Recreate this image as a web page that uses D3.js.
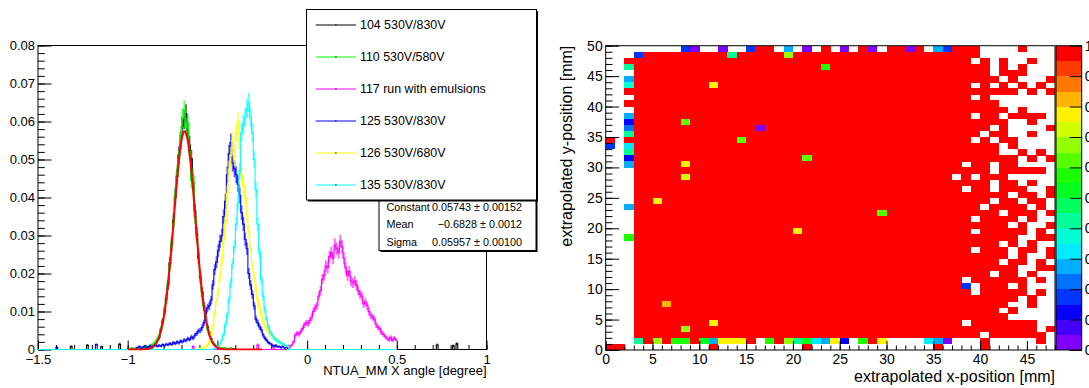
<!DOCTYPE html>
<html>
<head>
<meta charset="utf-8">
<script src="https://cdn.jsdelivr.net/npm/d3@7"></script>
<style>
  body { margin: 0; background: #fff; }
  svg { display: block; font-family: "Liberation Sans", Arial, Helvetica, sans-serif; }
</style>
</head>
<body>
<svg id="chart" width="1089" height="388"></svg>
<script>
// ---------- left pad: NTUA_MM X angle, normalised histograms ----------
// bin contents in units of 1e-3, bins of 0.01 degree starting at hXXXStart
const binWidth = 0.01;
const xMin = -1.5;

const runLabels = ['104 530V/830V', '110 530V/580V', '117 run with emulsions',
                   '125 530V/830V', '126 530V/680V', '135 530V/830V'];
const runColors = ['#000000', '#00ff00', '#ff00ff', '#0000ff', '#ffff00', '#00ffff'];

const h104Start = -1.0;
const h104 = [0.2,0,0.3,0,0.2,0.4,0,0.3,0.5,0.2,0.6,0.4,
  0.8,0.5,1.1,1.6,2.4,3.1,5.2,7.4,9.9,
  13.5,17.0,22.8,27.5,34.0,40.1,45.5,51.2,55.0,58.8,
  60.5,62.0,57.5,53.8,50.2,44.0,36.5,30.5,24.0,18.8,
  15.2,11.5,8.4,6.0,4.1,2.9,1.8,1.2,0.8,0.5,
  0.4,0.2,0.3,0.1,0.2,0,0.3,0.1,0.2];
const h104Spikes = [[-1.315,0.8],[-1.225,1.1],[-1.145,0.7],[-1.045,1.4],[0.725,1.2],[0.815,1.0],[0.835,1.5]];

const h110Start = -1.0;
const h110 = [0.1,0.3,0,0.2,0.5,0.2,0.4,0.6,0.3,0.5,0.8,0.6,
  1.0,1.3,1.5,2.0,2.8,3.6,5.6,7.0,10.5,
  13.0,18.0,22.0,28.5,33.0,41.0,46.5,50.0,56.5,61.0,
  63.0,58.5,59.5,52.0,44.5,45.5,35.0,29.5,25.0,19.5,
  14.0,11.0,8.8,5.5,4.5,2.6,2.0,1.1,0.9,0.6,
  0.3,0.5,0.2,0.4,0.1,0.3,0.2,0.1,0];

const h117Start = -0.12;
const h117 = [0.8,1.0,0.7,1.2,2.0,3.8,4.3,4.0,4.8,5.5,
  6.5,7.0,6.8,7.6,8.5,10.0,11.0,11.5,14.0,15.5,
  18.5,19.5,22.0,21.5,24.5,25.5,24.0,27.5,26.5,25.5,
  28.5,27.0,24.0,21.5,19.5,20.5,18.0,17.5,18.0,17.0,
  15.5,14.5,14.0,12.0,12.5,11.5,10.0,9.0,8.5,8.0,
  6.5,5.8,5.5,4.5,4.0,3.5,3.0,2.5,3.2,2.4,
  3.0,2.6];
const h117Spikes = [[-0.635,0.8],[-0.275,1.2],[-0.185,0.9]];

const h125Start = -0.95;
const h125 = [0.5,0.8,0.3,0.6,0.9,0.5,0.7,1.0,0.6,0.9,1.2,0.8,1.1,0.9,1.3,
  1.0,1.4,1.2,1.6,1.3,1.8,1.5,2.0,1.7,2.2,
  2.0,2.5,2.3,2.9,2.6,3.3,3.0,3.8,4.2,4.9,
  5.0,5.8,7.0,9.5,11.0,11.5,13.0,17.0,21.0,23.0,
  26.0,28.5,30.0,35.0,39.0,46.0,51.5,54.5,49.0,47.5,
  46.0,43.5,40.5,36.0,33.0,29.0,26.5,20.0,17.0,14.5,
  11.5,8.0,7.0,6.0,5.2,3.8,3.0,2.4,1.8,1.5,
  1.2,0.9,1.1,0.7,0.8,0.5,0.9,0.4,0.6,0.3];
const h125Spikes = [[-1.395,0.6],[-1.175,1.3]];

const h126Start = -0.60;
const h126 = [0.3,0.2,0.5,0.8,1.2,2.0,3.8,6.0,9.5,12.5,
  15.0,19.0,23.5,29.0,33.5,41.0,47.5,51.0,55.0,50.5,
  57.0,60.0,53.0,46.0,43.0,40.0,35.5,31.0,26.5,22.0,
  19.0,16.0,13.0,11.0,9.0,7.5,6.2,5.5,4.8,4.0,
  3.6,3.0,2.8,2.3,2.0,1.8,1.4,1.2,0.9,0.8];

const h135Start = -0.52;
const h135 = [0.2,0.4,0.8,1.5,2.5,4.0,6.5,9.0,13.0,17.5,
  22.5,27.0,33.0,38.5,47.0,57.0,59.5,61.0,63.5,65.0,
  61.0,57.0,50.0,42.0,33.0,25.5,18.5,14.0,10.5,8.0,
  6.0,4.5,3.8,3.0,2.6,2.2,1.9,1.7,1.5,1.2,
  1.0,0.8];

// gaussian fit shown in the stats box
const fitConstant = 0.05743, fitMean = -0.6828, fitSigma = 0.05957;
const fitRange = [-1.0, -0.25];
const statNames = ['Constant', 'Mean', 'Sigma'];
const statValues = ['0.05743 \u00b1 0.00152', '\u22120.6828 \u00b1 0.0012', '0.05957 \u00b1 0.00100'];

const yTicksL = [0, 0.01, 0.02, 0.03, 0.04, 0.05, 0.06, 0.07, 0.08];
const xTicksL = [-1.5, -1, -0.5, 0, 0.5, 1];

// ---------- right pad: efficiency map, 1 mm bins, 48 x 50 ----------
// '#' = filled bin (efficiency ~1 unless listed in lowCells), '.' = empty; first string is y bin 49
const solid = "##################################";
const effGrid = [
  "........##..#..###.#.#.#.#.##.####.#####....#...",
  "..." + solid + "###........",
  "..#" + solid + "##.#.#..#..",
  "..#" + solid + "####.#.#...",
  "..." + solid + "####.###...",
  "..#" + solid + "#####.#...#",
  "..#" + solid + "##.#.#.#.#.",
  "..#" + solid + "#######.#.#",
  "..." + solid + "##.#.......",
  "..#" + solid + "#####......",
  "..." + solid + "######.#...",
  "..#" + solid + "##.##.####.",
  "..#" + solid + "######..#..",
  "..#" + solid + "####.#....#",
  "..#" + solid + "###.##..#..",
  "#.#" + solid + "##.#.##....",
  "#.#" + solid + "#####.#....",
  "..#" + solid + "#####..#.#.",
  "..#" + solid + "#######.#.#",
  "..#" + solid + "#.##.##....",
  "..." + solid + "####.#####.",
  "..." + solid + ".#.###.....",
  "..." + solid + "####.##.#..",
  "..." + solid + "#.##.###..#",
  "..." + solid + "######.##.#",
  "..." + solid + "####.##.##.",
  "..#" + solid + "###.####.#.",
  "..." + solid + "#####.###.#",
  "..." + solid + "##.####.#..",
  "..." + solid + "######.#..#",
  "..." + solid + "##.#####.#.",
  "..#" + solid + "#######..##",
  "..." + solid + "#####.#.#..",
  "..." + solid + "##.###.##.#",
  "..." + solid + "######.#..#",
  "..." + solid + "#####.##.#.",
  "..." + solid + "#######..##",
  "..." + solid + "####.##.#..",
  "..." + solid + "#.######.#.",
  "..." + solid + "##.###.#...",
  "..." + solid + "##.#####.#.",
  "..." + solid + "#######.#..",
  "..." + solid + "######..#..",
  "..." + solid + "#####.#....",
  "..." + solid + "######.....",
  "..." + solid + "#.#######..",
  "..." + solid + "#########.#",
  "..." + solid + "###.######.",
  "..." + "##########" + "###.######" + "###.###..." + ".###" + "...#.....#.",
  "##." + "........#." + "........#." + ".........." + "..#." + "...#......."
];
const fullValue = 0.98;
// [x bin, y bin, efficiency] for bins that are not ~1
const lowCells = [
  [8,49,0.18],[9,49,0.03],[12,49,0.03],[15,49,0.18],[19,49,0.28],[21,49,0.03],[25,49,0.03],
  [28,49,0.03],[32,49,0.03],[35,49,0.28],[36,49,0.18],
  [3,48,0.15],[13,48,0.42],[19,48,0.67],[23,46,0.57],
  [2,46,0.42],[2,44,0.27],[2,43,0.37],[2,38,0.28],[2,37,0.12],[2,36,0.23],[2,35,0.42],
  [0,33,0.18],[2,33,0.32],[2,32,0.40],[2,31,0.12],[2,30,0.28],[2,23,0.25],[2,18,0.57],
  [11,43,0.77],[8,37,0.62],[16,36,0.04],[14,34,0.62],[21,31,0.62],[8,30,0.77],[8,28,0.72],
  [5,24,0.77],[29,22,0.62],[20,19,0.77],[6,7,0.82],[11,4,0.77],[8,3,0.67],[38,10,0.18],
  [3,1,0.42],[5,1,0.67],[7,1,0.57],[8,1,0.57],[10,1,0.52],[11,1,0.28],[12,1,0.77],[13,1,0.77],
  [14,1,0.77],[17,1,0.57],[19,1,0.67],[20,1,0.42],[21,1,0.52],[22,1,0.33],[23,1,0.28],
  [24,1,0.77],[25,1,0.10],[27,1,0.57],[29,1,0.77],[34,1,0.33],[35,1,0.27],[36,1,0.04]
];
const xTicksR = [0, 5, 10, 15, 20, 25, 30, 35, 40, 45];
const yTicksR = [0, 5, 10, 15, 20, 25, 30, 35, 40, 45, 50];
const zTicks = [0, 0.1, 0.2, 0.3, 0.4, 0.5, 0.6, 0.7, 0.8, 0.9, 1];

// ====================================================================
const svg = d3.select('#chart');

function drawAxis(g, gen, values, size, pad, fmt, fontSize) {
  g.call(gen.tickValues(values).tickSize(size).tickPadding(pad).tickFormat(fmt));
  g.select('.domain').remove();
  g.attr('font-family', null).attr('font-size', null);
  g.selectAll('line').attr('stroke', '#000');
  g.selectAll('text').attr('fill', '#000').style('font-size', fontSize + 'px');
  return g;
}
const noLabel = () => '';

// ---------------- left pad ----------------
const L = { left: 38, right: 486.5, top: 45.5, bottom: 349.5 };
const x = d3.scaleLinear().domain([xMin, 1]).range([L.left, L.right]);
const y = d3.scaleLinear().domain([0, 0.08]).range([L.bottom, L.top]);

svg.append('defs').append('clipPath').attr('id', 'clipL')
  .append('rect').attr('x', L.left).attr('y', L.top)
  .attr('width', L.right - L.left).attr('height', L.bottom - L.top + 1);

svg.append('rect').attr('x', L.left).attr('y', L.top)
  .attr('width', L.right - L.left).attr('height', L.bottom - L.top)
  .attr('fill', 'none').attr('stroke', '#000');

const yMinorL = d3.range(0, 41).map(i => i * 0.002);
const xMinorL = d3.range(0, 26).map(i => -1.5 + i * 0.1);
drawAxis(svg.append('g').attr('transform', `translate(${L.left},0)`),
  d3.axisLeft(y), yMinorL, -6.75, 3, noLabel, 13);
drawAxis(svg.append('g').attr('transform', `translate(${L.left},0)`),
  d3.axisLeft(y), yTicksL, -13.5, 3, d => d === 0 ? '0' : d3.format('.2f')(d), 13);
drawAxis(svg.append('g').attr('transform', `translate(0,${L.bottom})`),
  d3.axisBottom(x), xMinorL, -4.5, 4.8, noLabel, 13);
drawAxis(svg.append('g').attr('transform', `translate(0,${L.bottom})`),
  d3.axisBottom(x), xTicksL, -9, 4.8, d3.format(''), 13);

svg.append('text').attr('x', L.right).attr('y', 374.5).attr('text-anchor', 'end')
  .style('font-size', '13px').text('NTUA_MM X angle [degree]');

// dense bin array over [xMin, end)
function denseBins(start, values, spikes, end) {
  const n = Math.round((end - xMin) / binWidth);
  const out = new Array(n).fill(0);
  const off = Math.round((start - xMin) / binWidth);
  values.forEach((v, i) => { if (off + i < n) out[off + i] = v; });
  (spikes || []).forEach(([c, v]) => { out[Math.floor((c - xMin) / binWidth)] = v; });
  return out;
}

const series = [
  { bins: denseBins(h104Start, h104, h104Spikes, 1.0), color: runColors[0] },
  { bins: denseBins(h110Start, h110, [], 0.5), color: runColors[1] },
  { bins: denseBins(h117Start, h117, h117Spikes, 0.5), color: runColors[2] },
  { bins: denseBins(h125Start, h125, h125Spikes, 0.5), color: runColors[3] },
  { bins: denseBins(h126Start, h126, [], 0.5), color: runColors[4] },
  { bins: denseBins(h135Start, h135, [], 0.5), color: runColors[5] }
];

const plotL = svg.append('g').attr('clip-path', 'url(#clipL)');
const stepLine = d3.line().x(d => x(d[0])).y(d => y(d[1] / 1000));
const errScale = 0.32; // statistical error ~ sqrt(content)

series.forEach(s => {
  const g = plotL.append('g');
  // error bars
  g.selectAll('line').data(s.bins.map((v, i) => [xMin + (i + 0.5) * binWidth, v]).filter(d => d[1] > 0))
    .join('line')
    .attr('x1', d => x(d[0])).attr('x2', d => x(d[0]))
    .attr('y1', d => y((d[1] + errScale * Math.sqrt(d[1])) / 1000))
    .attr('y2', d => y(Math.max(0, d[1] - errScale * Math.sqrt(d[1])) / 1000))
    .attr('stroke', s.color).attr('stroke-width', 1.8).attr('stroke-opacity', 0.6);
  const pts = [];
  s.bins.forEach((v, i) => {
    const lo = xMin + i * binWidth;
    pts.push([lo, v], [lo + binWidth, v]);
  });
  g.append('path').attr('d', stepLine(pts))
    .attr('fill', 'none').attr('stroke', s.color).attr('stroke-width', 1.1);
});

// fit function
const fitPts = d3.range(fitRange[0], fitRange[1] + 1e-9, 0.0025).map(v =>
  [v, fitConstant * Math.exp(-0.5 * Math.pow((v - fitMean) / fitSigma, 2))]);
plotL.append('path')
  .attr('d', d3.line().x(d => x(d[0])).y(d => y(d[1]))(fitPts))
  .attr('fill', 'none').attr('stroke', '#ff0000').attr('stroke-width', 2);

// stats box (upper part hidden by legend)
const stat = { x: 379, y: 150, w: 157, h: 100.5 };
svg.append('rect').attr('x', stat.x + 1.5).attr('y', stat.y + 1.5)
  .attr('width', stat.w).attr('height', stat.h).attr('fill', '#000');
svg.append('rect').attr('x', stat.x).attr('y', stat.y)
  .attr('width', stat.w).attr('height', stat.h)
  .attr('fill', '#fff').attr('stroke', '#000');
statNames.forEach((n, i) => {
  const cy = 206.8 + i * 17.5;
  svg.append('text').attr('x', 386.5).attr('y', cy + 3.8).style('font-size', '10.8px').text(n);
  svg.append('text').attr('x', 522).attr('y', cy + 3.8).attr('text-anchor', 'end')
    .style('font-size', '10.8px').text(statValues[i]);
});

// legend
const leg = { x: 306.5, y: 9.5, w: 230, h: 190.5 };
svg.append('rect').attr('x', leg.x + 1.5).attr('y', leg.y + 1.5)
  .attr('width', leg.w).attr('height', leg.h).attr('fill', '#000');
svg.append('rect').attr('x', leg.x).attr('y', leg.y)
  .attr('width', leg.w).attr('height', leg.h)
  .attr('fill', '#fff').attr('stroke', '#000');
runLabels.forEach((lab, i) => {
  const cy = 25 + i * 32;
  svg.append('line').attr('x1', 315.7).attr('x2', 356).attr('y1', cy).attr('y2', cy)
    .attr('stroke', runColors[i]).attr('stroke-width', 1);
  svg.append('rect').attr('x', 335.3).attr('y', cy - 0.6).attr('width', 1.2).attr('height', 1.2).attr('fill', '#000');
  svg.append('text').attr('x', 360).attr('y', cy + 4.4).style('font-size', '12.4px').text(lab);
});

// ---------------- right pad ----------------
const R = { left: 605.7, right: 1055, top: 45.7, bottom: 350 };
const xr = d3.scaleLinear().domain([0, 48]).range([R.left, R.right]);
const yr = d3.scaleLinear().domain([0, 50]).range([R.bottom, R.top]);

// ROOT-like rainbow palette, 20 contour levels from violet to red
const paletteColors = d3.range(20).map(k => d3.hsl(270 * (19 - k) / 19, 1, 0.5).formatHex());
const zColor = d3.scaleQuantize().domain([0, 1]).range(paletteColors);

const lowMap = new Map(lowCells.map(([c, r, v]) => [c + ',' + r, v]));
const cells = [];
effGrid.forEach((row, k) => {
  const r = 49 - k;
  for (let c = 0; c < Math.min(48, row.length); c++) {
    if (row[c] === '.') continue;
    const key = c + ',' + r;
    cells.push({ c, r, v: lowMap.has(key) ? lowMap.get(key) : fullValue });
  }
});
// listed cells that are not marked in the grid
lowCells.forEach(([c, r, v]) => {
  const row = effGrid[49 - r];
  if (!row || row[c] !== '#') cells.push({ c, r, v });
});

svg.append('g').attr('shape-rendering', 'crispEdges')
  .selectAll('rect').data(cells).join('rect')
  .attr('x', d => xr(d.c)).attr('y', d => yr(d.r + 1))
  .attr('width', d => xr(d.c + 1) - xr(d.c) + 0.3)
  .attr('height', d => yr(d.r) - yr(d.r + 1) + 0.3)
  .attr('fill', d => zColor(Math.min(0.999, d.v)));

svg.append('rect').attr('x', R.left).attr('y', R.top)
  .attr('width', R.right - R.left).attr('height', R.bottom - R.top)
  .attr('fill', 'none').attr('stroke', '#000');

drawAxis(svg.append('g').attr('transform', `translate(${R.left},0)`),
  d3.axisLeft(yr), d3.range(0, 51), -6.75, 3, noLabel, 14);
drawAxis(svg.append('g').attr('transform', `translate(${R.left},0)`),
  d3.axisLeft(yr), yTicksR, -13.5, 3, d3.format('d'), 14);
drawAxis(svg.append('g').attr('transform', `translate(0,${R.bottom})`),
  d3.axisBottom(xr), d3.range(0, 49), -4.5, 3.6, noLabel, 14);
drawAxis(svg.append('g').attr('transform', `translate(0,${R.bottom})`),
  d3.axisBottom(xr), xTicksR, -9, 3.6, d3.format('d'), 14);

svg.append('text').attr('x', R.right).attr('y', 382).attr('text-anchor', 'end')
  .style('font-size', '16px').text('extrapolated x-position [mm]');
svg.append('text').attr('transform', `translate(572,${R.top}) rotate(-90)`)
  .attr('text-anchor', 'end').style('font-size', '16px').text('extrapolated y-position [mm]');

// palette
const P = { left: 1056, right: 1081.7 };
const zr = d3.scaleLinear().domain([0, 1]).range([R.bottom, R.top]);
svg.append('g').attr('shape-rendering', 'crispEdges')
  .selectAll('rect').data(paletteColors).join('rect')
  .attr('x', P.left).attr('width', P.right - P.left)
  .attr('y', (d, k) => zr((k + 1) / 20)).attr('height', (d, k) => zr(k / 20) - zr((k + 1) / 20) + 0.3)
  .attr('fill', d => d);
svg.append('rect').attr('x', P.left).attr('y', R.top)
  .attr('width', P.right - P.left).attr('height', R.bottom - R.top)
  .attr('fill', 'none').attr('stroke', '#000');
drawAxis(svg.append('g').attr('transform', `translate(${P.right},0)`),
  d3.axisRight(zr), zTicks, -12, 3, d => d === 0 ? '0' : (d === 1 ? '1' : d3.format('.1f')(d)), 14);
</script>
</body>
</html>
